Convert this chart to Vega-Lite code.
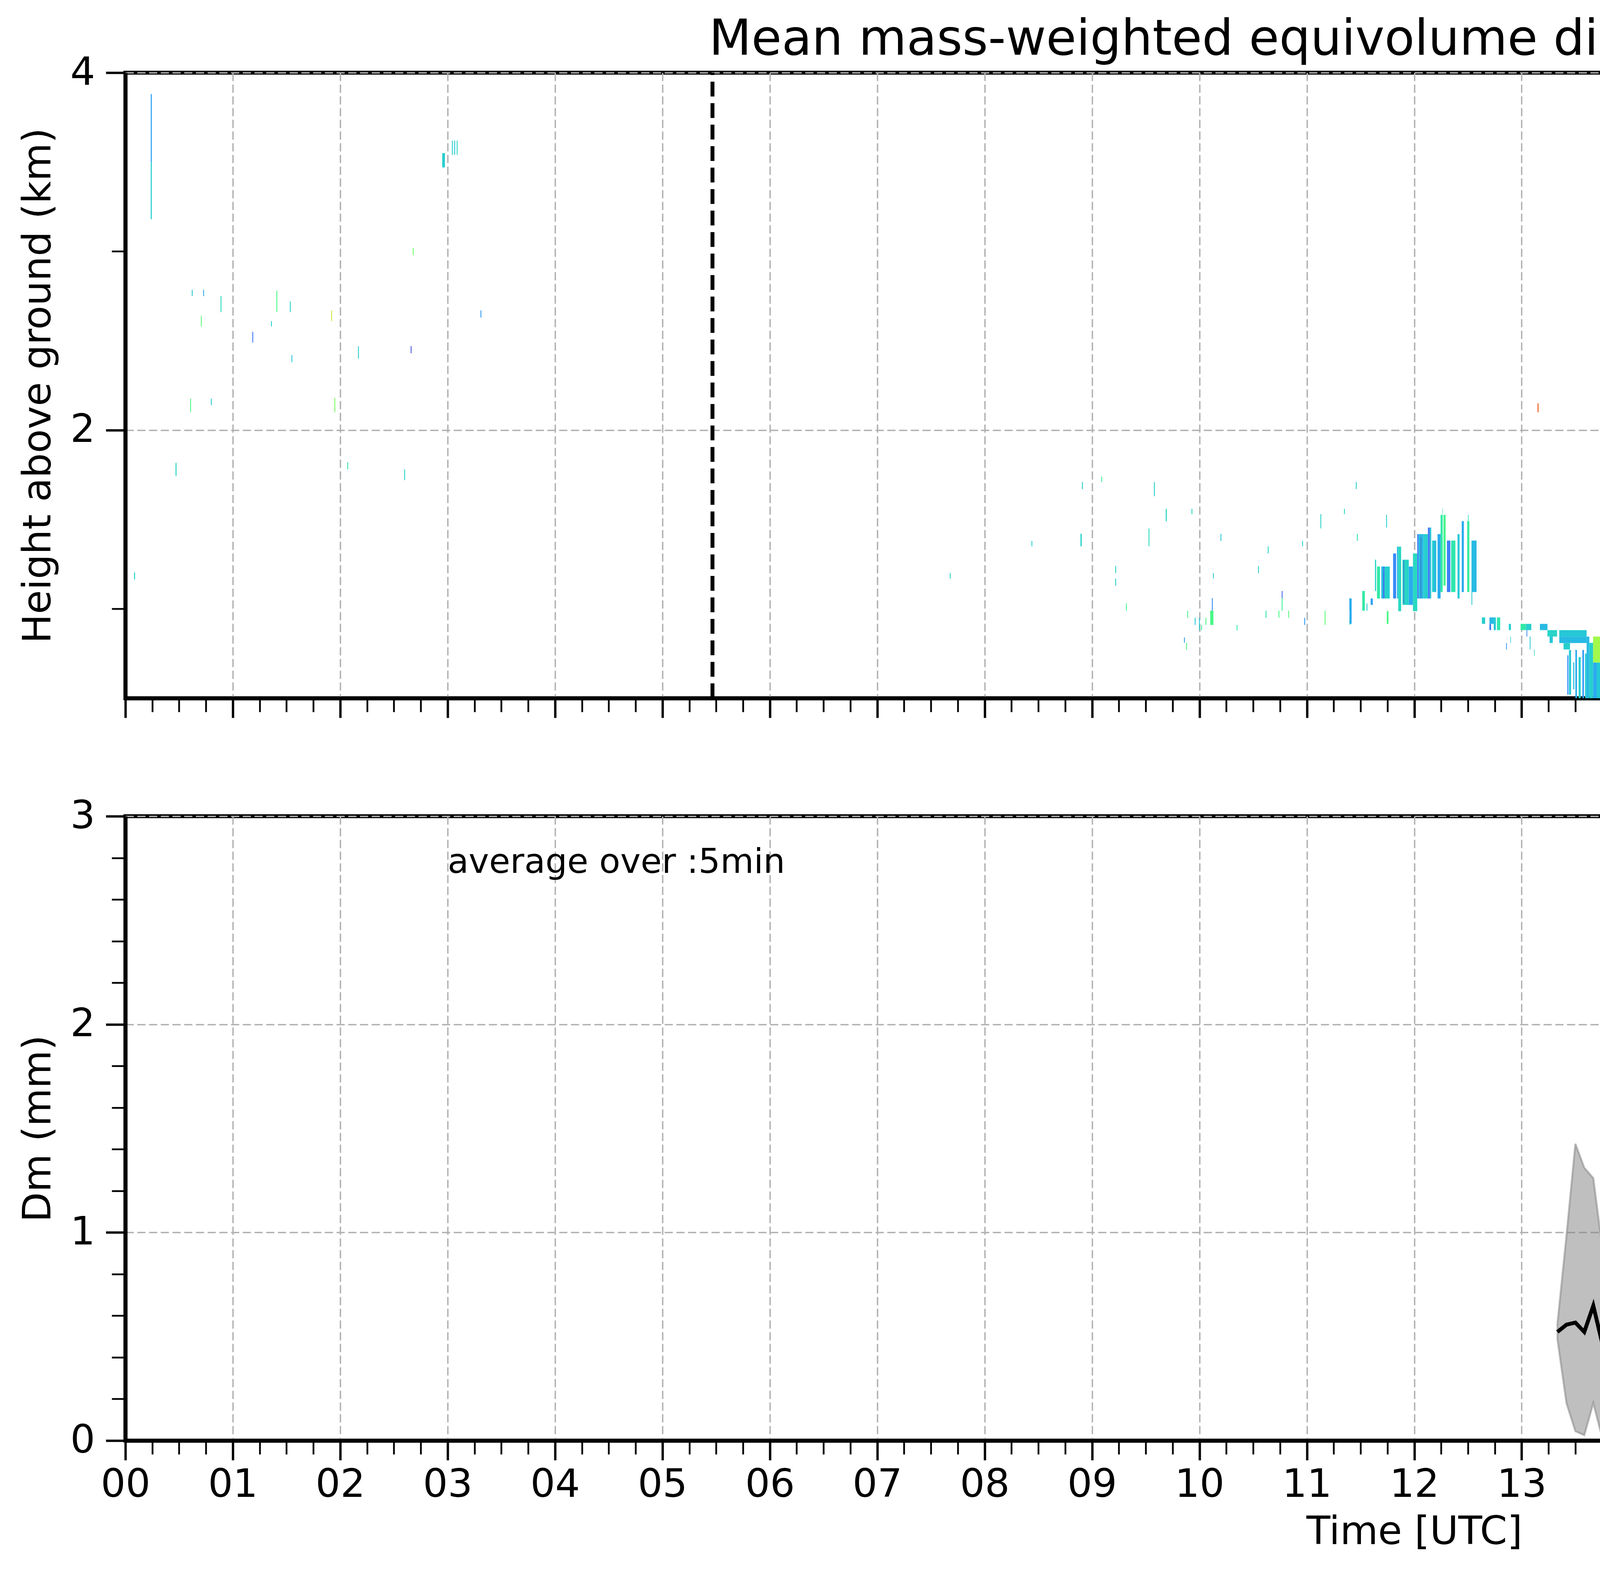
{
  "$schema": "https://vega.github.io/schema/vega-lite/v6.json",
  "background": "white",
  "padding": {"left": 43, "top": 34, "right": 10, "bottom": 10},
  "config": {
    "font": "DejaVu Sans",
    "view": {"stroke": "black", "strokeWidth": 10},
    "axis": {"labelFont": "DejaVu Sans", "titleFont": "DejaVu Sans", "labelColor": "black", "titleColor": "black", "tickColor": "black", "domainColor": "black", "zindex": 1},
    "legend": {"labelFont": "DejaVu Sans", "titleFont": "DejaVu Sans", "labelColor": "black", "titleColor": "black"},
    "title": {"font": "DejaVu Sans", "color": "black"}
  },
  "datasets": {
    "heat": [
      {"t":0.236,"t2":0.246,"h":3.5,"h2":3.88,"v":0.42},
      {"t":0.236,"t2":0.246,"h":3.18,"h2":3.5,"v":0.58},
      {"t":0.081,"t2":0.09,"h":1.164,"h2":1.204,"v":0.58},
      {"t":0.467,"t2":0.476,"h":1.743,"h2":1.817,"v":0.6},
      {"t":0.603,"t2":0.611,"h":2.1,"h2":2.176,"v":0.8},
      {"t":0.618,"t2":0.626,"h":2.75,"h2":2.785,"v":0.55},
      {"t":0.703,"t2":0.711,"h":2.58,"h2":2.64,"v":0.85},
      {"t":0.724,"t2":0.732,"h":2.75,"h2":2.785,"v":0.45},
      {"t":0.796,"t2":0.804,"h":2.14,"h2":2.176,"v":0.55},
      {"t":0.886,"t2":0.894,"h":2.66,"h2":2.75,"v":0.62},
      {"t":1.182,"t2":1.19,"h":2.49,"h2":2.55,"v":0.3},
      {"t":1.356,"t2":1.364,"h":2.58,"h2":2.61,"v":0.58},
      {"t":1.406,"t2":1.414,"h":2.66,"h2":2.78,"v":0.8},
      {"t":1.531,"t2":1.539,"h":2.66,"h2":2.72,"v":0.6},
      {"t":1.546,"t2":1.554,"h":2.38,"h2":2.42,"v":0.55},
      {"t":1.916,"t2":1.924,"h":2.61,"h2":2.67,"v":1.15},
      {"t":1.946,"t2":1.954,"h":2.1,"h2":2.18,"v":0.95},
      {"t":2.066,"t2":2.074,"h":1.78,"h2":1.82,"v":0.7},
      {"t":2.166,"t2":2.174,"h":2.4,"h2":2.47,"v":0.58},
      {"t":2.596,"t2":2.604,"h":1.72,"h2":1.78,"v":0.6},
      {"t":2.656,"t2":2.664,"h":2.43,"h2":2.47,"v":0.2},
      {"t":2.676,"t2":2.684,"h":2.98,"h2":3.02,"v":0.9},
      {"t":2.95,"t2":2.975,"h":3.47,"h2":3.55,"v":0.58},
      {"t":3.04,"t2":3.048,"h":3.54,"h2":3.62,"v":0.58},
      {"t":3.062,"t2":3.07,"h":3.54,"h2":3.62,"v":0.55},
      {"t":3.085,"t2":3.093,"h":3.54,"h2":3.62,"v":0.6},
      {"t":3.306,"t2":3.314,"h":2.63,"h2":2.67,"v":0.4},
      {"t":7.676,"t2":7.684,"h":1.17,"h2":1.2,"v":0.58},
      {"t":8.436,"t2":8.444,"h":1.35,"h2":1.38,"v":0.58},
      {"t":8.892,"t2":8.904,"h":1.35,"h2":1.42,"v":0.6},
      {"t":8.906,"t2":8.914,"h":1.67,"h2":1.71,"v":0.58},
      {"t":9.086,"t2":9.094,"h":1.71,"h2":1.74,"v":0.75},
      {"t":9.216,"t2":9.224,"h":1.2,"h2":1.24,"v":0.58},
      {"t":9.216,"t2":9.224,"h":1.13,"h2":1.17,"v":0.58},
      {"t":9.316,"t2":9.324,"h":0.99,"h2":1.03,"v":0.8},
      {"t":9.526,"t2":9.534,"h":1.35,"h2":1.45,"v":0.62},
      {"t":9.576,"t2":9.584,"h":1.63,"h2":1.71,"v":0.58},
      {"t":9.686,"t2":9.696,"h":1.49,"h2":1.56,"v":0.62},
      {"t":9.856,"t2":9.864,"h":0.81,"h2":0.84,"v":0.42},
      {"t":9.876,"t2":9.884,"h":0.77,"h2":0.81,"v":0.8},
      {"t":9.886,"t2":9.894,"h":0.95,"h2":0.99,"v":0.8},
      {"t":9.926,"t2":9.934,"h":1.53,"h2":1.56,"v":0.62},
      {"t":9.956,"t2":9.964,"h":0.91,"h2":0.95,"v":0.55},
      {"t":9.996,"t2":10.004,"h":0.88,"h2":0.95,"v":0.55},
      {"t":10.016,"t2":10.024,"h":0.88,"h2":0.91,"v":0.75},
      {"t":10.056,"t2":10.064,"h":0.91,"h2":0.95,"v":0.8},
      {"t":10.1,"t2":10.13,"h":0.91,"h2":0.99,"v":0.8},
      {"t":10.116,"t2":10.124,"h":0.99,"h2":1.06,"v":0.35},
      {"t":10.126,"t2":10.134,"h":1.17,"h2":1.2,"v":0.58},
      {"t":10.196,"t2":10.204,"h":1.38,"h2":1.42,"v":0.55},
      {"t":10.346,"t2":10.354,"h":0.88,"h2":0.91,"v":0.7},
      {"t":10.546,"t2":10.554,"h":1.2,"h2":1.24,"v":0.58},
      {"t":10.616,"t2":10.624,"h":0.95,"h2":0.99,"v":0.68},
      {"t":10.636,"t2":10.644,"h":1.31,"h2":1.35,"v":0.6},
      {"t":10.736,"t2":10.744,"h":0.95,"h2":0.99,"v":0.8},
      {"t":10.766,"t2":10.774,"h":1.06,"h2":1.1,"v":0.25},
      {"t":10.766,"t2":10.774,"h":0.99,"h2":1.06,"v":0.75},
      {"t":10.826,"t2":10.834,"h":0.95,"h2":0.99,"v":0.85},
      {"t":10.956,"t2":10.964,"h":1.35,"h2":1.38,"v":0.58},
      {"t":10.976,"t2":10.984,"h":0.91,"h2":0.95,"v":0.4},
      {"t":11.126,"t2":11.134,"h":1.45,"h2":1.53,"v":0.6},
      {"t":11.166,"t2":11.174,"h":0.91,"h2":0.99,"v":0.85},
      {"t":11.346,"t2":11.354,"h":1.53,"h2":1.56,"v":0.62},
      {"t":11.396,"t2":11.404,"h":0.99,"h2":1.06,"v":0.4},
      {"t":11.396,"t2":11.404,"h":0.91,"h2":0.95,"v":0.8},
      {"t":11.456,"t2":11.464,"h":1.67,"h2":1.71,"v":0.58},
      {"t":11.466,"t2":11.474,"h":1.38,"h2":1.42,"v":0.65},
      {"t":11.516,"t2":11.54,"h":0.99,"h2":1.1,"v":0.7},
      {"t":11.556,"t2":11.564,"h":0.99,"h2":1.03,"v":0.55},
      {"t":11.738,"t2":11.746,"h":1.455,"h2":1.526,"v":0.58},
      {"t":11.397,"t2":11.417,"h":0.916,"h2":1.058,"v":0.45},
      {"t":11.594,"t2":11.614,"h":1.022,"h2":1.058,"v":0.42},
      {"t":11.634,"t2":11.645,"h":1.1,"h2":1.275,"v":0.6},
      {"t":11.653,"t2":11.681,"h":1.058,"h2":1.237,"v":0.7},
      {"t":11.693,"t2":11.711,"h":1.058,"h2":1.237,"v":0.5},
      {"t":11.711,"t2":11.722,"h":1.058,"h2":1.237,"v":0.3},
      {"t":11.722,"t2":11.772,"h":1.058,"h2":1.237,"v":0.58},
      {"t":11.744,"t2":11.76,"h":0.916,"h2":0.987,"v":0.8},
      {"t":11.803,"t2":11.831,"h":1.058,"h2":1.31,"v":0.35},
      {"t":11.839,"t2":11.851,"h":1.058,"h2":1.348,"v":0.5},
      {"t":11.851,"t2":11.878,"h":0.987,"h2":1.348,"v":0.62},
      {"t":11.89,"t2":11.949,"h":1.022,"h2":1.275,"v":0.6},
      {"t":11.949,"t2":11.988,"h":1.022,"h2":1.237,"v":0.45},
      {"t":11.988,"t2":12.028,"h":0.987,"h2":1.31,"v":0.62},
      {"t":12.028,"t2":12.04,"h":1.058,"h2":1.418,"v":0.3},
      {"t":12.04,"t2":12.087,"h":1.058,"h2":1.418,"v":0.5},
      {"t":12.087,"t2":12.127,"h":1.058,"h2":1.418,"v":0.58},
      {"t":12.127,"t2":12.146,"h":1.058,"h2":1.455,"v":0.3},
      {"t":12.146,"t2":12.158,"h":1.058,"h2":1.455,"v":0.55},
      {"t":12.166,"t2":12.205,"h":1.094,"h2":1.382,"v":0.56},
      {"t":12.217,"t2":12.245,"h":1.058,"h2":1.418,"v":0.45},
      {"t":12.245,"t2":12.265,"h":1.094,"h2":1.526,"v":0.7},
      {"t":12.262,"t2":12.266,"h":1.526,"h2":1.561,"v":0.7},
      {"t":12.272,"t2":12.292,"h":1.13,"h2":1.526,"v":0.78},
      {"t":12.304,"t2":12.336,"h":1.094,"h2":1.382,"v":0.32},
      {"t":12.343,"t2":12.383,"h":1.094,"h2":1.382,"v":0.68},
      {"t":12.403,"t2":12.422,"h":1.058,"h2":1.418,"v":0.55},
      {"t":12.442,"t2":12.462,"h":1.094,"h2":1.491,"v":0.45},
      {"t":12.493,"t2":12.513,"h":1.094,"h2":1.491,"v":0.72},
      {"t":12.5,"t2":12.506,"h":1.491,"h2":1.526,"v":0.65},
      {"t":12.533,"t2":12.58,"h":1.094,"h2":1.382,"v":0.5},
      {"t":12.533,"t2":12.54,"h":1.022,"h2":1.094,"v":0.55},
      {"t":12.63,"t2":12.66,"h":0.916,"h2":0.952,"v":0.58},
      {"t":12.7,"t2":12.74,"h":0.916,"h2":0.952,"v":0.5},
      {"t":12.7,"t2":12.715,"h":0.881,"h2":0.916,"v":0.3},
      {"t":12.74,"t2":12.76,"h":0.881,"h2":0.952,"v":0.55},
      {"t":12.77,"t2":12.8,"h":0.881,"h2":0.952,"v":0.68},
      {"t":12.855,"t2":12.862,"h":0.773,"h2":0.809,"v":0.4},
      {"t":12.88,"t2":12.9,"h":0.881,"h2":0.916,"v":0.58},
      {"t":12.895,"t2":12.9,"h":0.809,"h2":0.845,"v":0.55},
      {"t":12.99,"t2":13.04,"h":0.881,"h2":0.916,"v":0.7},
      {"t":13.04,"t2":13.09,"h":0.881,"h2":0.916,"v":0.58},
      {"t":13.045,"t2":13.052,"h":0.845,"h2":0.881,"v":0.35},
      {"t":13.075,"t2":13.082,"h":0.773,"h2":0.845,"v":0.55},
      {"t":13.115,"t2":13.12,"h":0.736,"h2":0.773,"v":0.6},
      {"t":13.148,"t2":13.157,"h":2.1,"h2":2.15,"v":1.65},
      {"t":13.17,"t2":13.24,"h":0.881,"h2":0.916,"v":0.5},
      {"t":13.24,"t2":13.33,"h":0.845,"h2":0.881,"v":0.6},
      {"t":13.26,"t2":13.29,"h":0.809,"h2":0.845,"v":0.55},
      {"t":13.35,"t2":13.605,"h":0.845,"h2":0.881,"v":0.55},
      {"t":13.35,"t2":13.605,"h":0.809,"h2":0.845,"v":0.5},
      {"t":13.39,"t2":13.45,"h":0.773,"h2":0.809,"v":0.58},
      {"t":13.425,"t2":13.435,"h":0.52,"h2":0.74,"v":0.35},
      {"t":13.44,"t2":13.46,"h":0.52,"h2":0.77,"v":0.55},
      {"t":13.48,"t2":13.49,"h":0.55,"h2":0.7,"v":0.5},
      {"t":13.5,"t2":13.515,"h":0.5,"h2":0.77,"v":0.45},
      {"t":13.53,"t2":13.55,"h":0.5,"h2":0.73,"v":0.58},
      {"t":13.565,"t2":13.58,"h":0.5,"h2":0.77,"v":0.4},
      {"t":13.59,"t2":13.605,"h":0.5,"h2":0.75,"v":0.55},
      {"t":13.605,"t2":13.63,"h":0.5,"h2":0.845,"v":0.5},
      {"t":13.63,"t2":13.665,"h":0.5,"h2":0.81,"v":0.58},
      {"t":13.665,"t2":13.7,"h":0.5,"h2":0.7,"v":0.45},
      {"t":13.7,"t2":13.76,"h":0.5,"h2":0.7,"v":0.55},
      {"t":13.76,"t2":13.8,"h":0.5,"h2":0.7,"v":0.5},
      {"t":13.8,"t2":13.85,"h":0.5,"h2":0.7,"v":0.6},
      {"t":13.85,"t2":13.9,"h":0.5,"h2":0.7,"v":0.45},
      {"t":13.9,"t2":13.95,"h":0.5,"h2":0.7,"v":0.62},
      {"t":13.95,"t2":13.999,"h":0.5,"h2":0.72,"v":0.55},
      {"t":13.999,"t2":14.012,"h":0.5,"h2":0.7,"v":0.62},
      {"t":14.012,"t2":14.031,"h":0.5,"h2":0.78,"v":0.7},
      {"t":14.031,"t2":14.045,"h":0.5,"h2":0.845,"v":0.66},
      {"t":14.045,"t2":14.059,"h":0.5,"h2":0.86,"v":0.55},
      {"t":14.059,"t2":14.078,"h":0.5,"h2":0.9,"v":0.62},
      {"t":14.078,"t2":14.098,"h":0.5,"h2":0.9,"v":0.48},
      {"t":14.098,"t2":14.118,"h":0.5,"h2":0.95,"v":0.6},
      {"t":14.118,"t2":14.138,"h":0.5,"h2":0.95,"v":0.66},
      {"t":14.138,"t2":14.16,"h":0.5,"h2":1.02,"v":0.55},
      {"t":14.16,"t2":14.189,"h":0.5,"h2":1.02,"v":0.62},
      {"t":14.189,"t2":14.216,"h":0.5,"h2":1.075,"v":0.52},
      {"t":14.216,"t2":14.244,"h":0.5,"h2":1.115,"v":0.58},
      {"t":14.244,"t2":14.26,"h":0.5,"h2":1.17,"v":0.5},
      {"t":14.26,"t2":14.276,"h":0.5,"h2":1.17,"v":0.6},
      {"t":14.276,"t2":14.292,"h":0.5,"h2":1.22,"v":0.55},
      {"t":14.292,"t2":14.307,"h":0.5,"h2":1.22,"v":0.62},
      {"t":14.307,"t2":14.321,"h":0.5,"h2":1.255,"v":0.5},
      {"t":14.321,"t2":14.335,"h":0.5,"h2":1.255,"v":0.58},
      {"t":14.335,"t2":14.362,"h":0.5,"h2":1.295,"v":0.56},
      {"t":14.362,"t2":14.386,"h":0.5,"h2":1.33,"v":0.6},
      {"t":14.386,"t2":14.41,"h":0.5,"h2":1.38,"v":0.58},
      {"t":14.41,"t2":14.416,"h":0.5,"h2":1.31,"v":0.85},
      {"t":14.416,"t2":14.425,"h":0.5,"h2":1.31,"v":0.6},
      {"t":14.425,"t2":14.445,"h":0.5,"h2":1.2,"v":0.55},
      {"t":14.445,"t2":14.47,"h":0.5,"h2":1.097,"v":0.5},
      {"t":14.47,"t2":14.5,"h":0.5,"h2":1.097,"v":0.57},
      {"t":14.5,"t2":14.52,"h":0.5,"h2":1.238,"v":0.48},
      {"t":14.52,"t2":14.556,"h":0.5,"h2":1.238,"v":0.56},
      {"t":14.556,"t2":14.566,"h":0.5,"h2":1.348,"v":0.6},
      {"t":14.566,"t2":14.6,"h":0.5,"h2":1.167,"v":0.55},
      {"t":14.6,"t2":14.632,"h":0.5,"h2":1.167,"v":0.5},
      {"t":14.632,"t2":14.642,"h":0.5,"h2":1.238,"v":0.62},
      {"t":14.642,"t2":14.675,"h":0.5,"h2":1.026,"v":0.58},
      {"t":14.675,"t2":14.71,"h":0.5,"h2":0.987,"v":0.55},
      {"t":14.71,"t2":14.725,"h":0.5,"h2":1.167,"v":0.5},
      {"t":14.725,"t2":14.74,"h":0.5,"h2":1.167,"v":0.6},
      {"t":14.74,"t2":14.758,"h":0.5,"h2":1.203,"v":0.55},
      {"t":14.758,"t2":14.778,"h":0.5,"h2":1.275,"v":0.6},
      {"t":14.778,"t2":14.805,"h":0.5,"h2":1.312,"v":0.52},
      {"t":14.805,"t2":14.82,"h":0.5,"h2":1.382,"v":0.62},
      {"t":14.82,"t2":14.835,"h":0.5,"h2":1.382,"v":0.72},
      {"t":14.835,"t2":14.86,"h":0.5,"h2":1.418,"v":0.58},
      {"t":14.86,"t2":14.89,"h":0.5,"h2":1.418,"v":0.55},
      {"t":14.89,"t2":14.92,"h":0.5,"h2":1.418,"v":0.6},
      {"t":14.92,"t2":14.955,"h":0.5,"h2":1.418,"v":0.56},
      {"t":14.955,"t2":14.985,"h":0.5,"h2":1.382,"v":0.55},
      {"t":14.985,"t2":15.011,"h":0.5,"h2":1.382,"v":0.6},
      {"t":15.011,"t2":15.05,"h":0.5,"h2":1.348,"v":0.56},
      {"t":15.05,"t2":15.09,"h":0.5,"h2":1.348,"v":0.6},
      {"t":15.09,"t2":15.13,"h":0.5,"h2":1.312,"v":0.57},
      {"t":15.13,"t2":15.169,"h":0.5,"h2":1.312,"v":0.6},
      {"t":15.169,"t2":15.205,"h":0.5,"h2":1.275,"v":0.58},
      {"t":15.205,"t2":15.242,"h":0.5,"h2":1.275,"v":0.62},
      {"t":15.242,"t2":15.275,"h":0.5,"h2":1.238,"v":0.6},
      {"t":15.275,"t2":15.307,"h":0.5,"h2":1.238,"v":0.66},
      {"t":15.307,"t2":15.34,"h":0.5,"h2":1.203,"v":0.68},
      {"t":15.34,"t2":15.36,"h":0.5,"h2":0.916,"v":0.6},
      {"t":15.36,"t2":15.38,"h":0.5,"h2":0.916,"v":0.65},
      {"t":15.38,"t2":15.41,"h":0.5,"h2":0.809,"v":0.62},
      {"t":15.41,"t2":15.439,"h":0.5,"h2":0.809,"v":0.58},
      {"t":15.439,"t2":15.47,"h":0.5,"h2":0.987,"v":0.62},
      {"t":15.47,"t2":15.498,"h":0.5,"h2":0.987,"v":0.68},
      {"t":15.498,"t2":15.53,"h":0.5,"h2":0.952,"v":0.66},
      {"t":15.53,"t2":15.557,"h":0.5,"h2":0.952,"v":0.7},
      {"t":15.557,"t2":15.59,"h":0.5,"h2":0.916,"v":0.62},
      {"t":15.59,"t2":15.624,"h":0.5,"h2":0.916,"v":0.7},
      {"t":15.624,"t2":15.655,"h":0.5,"h2":0.881,"v":0.66},
      {"t":15.655,"t2":15.687,"h":0.5,"h2":0.881,"v":0.72},
      {"t":15.687,"t2":15.725,"h":0.5,"h2":0.845,"v":0.68},
      {"t":15.725,"t2":15.766,"h":0.5,"h2":0.845,"v":0.74},
      {"t":15.766,"t2":15.795,"h":0.5,"h2":0.809,"v":0.7},
      {"t":15.795,"t2":15.821,"h":0.5,"h2":0.809,"v":0.66},
      {"t":15.821,"t2":15.85,"h":0.5,"h2":0.773,"v":0.72},
      {"t":15.85,"t2":15.884,"h":0.5,"h2":0.773,"v":0.68},
      {"t":15.884,"t2":15.915,"h":0.5,"h2":0.736,"v":0.66},
      {"t":15.915,"t2":15.951,"h":0.5,"h2":0.736,"v":0.74},
      {"t":15.951,"t2":15.975,"h":0.5,"h2":0.7,"v":0.7},
      {"t":15.975,"t2":16.003,"h":0.5,"h2":0.7,"v":0.76},
      {"t":16.003,"t2":16.035,"h":0.5,"h2":0.664,"v":0.72},
      {"t":16.035,"t2":16.07,"h":0.5,"h2":0.664,"v":0.78},
      {"t":16.07,"t2":16.1,"h":0.5,"h2":0.628,"v":0.7},
      {"t":16.1,"t2":16.137,"h":0.5,"h2":0.628,"v":0.75},
      {"t":16.137,"t2":16.17,"h":0.5,"h2":0.591,"v":0.72},
      {"t":16.17,"t2":16.2,"h":0.5,"h2":0.591,"v":0.8},
      {"t":16.2,"t2":16.235,"h":0.5,"h2":0.555,"v":0.74},
      {"t":16.235,"t2":16.267,"h":0.5,"h2":0.555,"v":0.78},
      {"t":16.267,"t2":16.3,"h":0.5,"h2":0.519,"v":0.72},
      {"t":16.3,"t2":16.326,"h":0.5,"h2":0.519,"v":0.8},
      {"t":14.426,"t2":14.432,"h":3.38,"h2":3.41,"v":0.5},
      {"t":16.765,"t2":16.783,"h":3.55,"h2":3.61,"v":0.62},
      {"t":16.765,"t2":16.783,"h":3.51,"h2":3.55,"v":0.45},
      {"t":16.762,"t2":16.778,"h":3.47,"h2":3.51,"v":0.72},
      {"t":17.756,"t2":17.762,"h":3.76,"h2":3.79,"v":0.85},
      {"t":17.756,"t2":17.762,"h":3.72,"h2":3.76,"v":0.3},
      {"t":21.22,"t2":21.5,"h":0.5,"h2":0.52,"v":0.42},
      {"t":21.5,"t2":21.8,"h":0.5,"h2":0.52,"v":0.55},
      {"t":21.8,"t2":21.97,"h":0.5,"h2":0.515,"v":0.45}
    ],
    "stripes": [
      {"t":14.0,"t2":14.06,"h":0.5,"h2":0.57,"v":1.02},
      {"t":14.06,"t2":14.2,"h":0.5,"h2":0.56,"v":0.85},
      {"t":14.2,"t2":14.3,"h":0.5,"h2":0.55,"v":0.95},
      {"t":14.3,"t2":14.45,"h":0.5,"h2":0.55,"v":0.8},
      {"t":14.45,"t2":14.55,"h":0.5,"h2":0.54,"v":0.9},
      {"t":14.55,"t2":14.75,"h":0.5,"h2":0.53,"v":0.75},
      {"t":14.031,"t2":14.042,"h":0.5,"h2":0.81,"v":0.95},
      {"t":13.665,"t2":13.763,"h":0.7,"h2":0.845,"v":1.05},
      {"t":13.74,"t2":13.76,"h":0.5,"h2":0.6,"v":1.0},
      {"t":14.05,"t2":14.055,"h":0.55,"h2":0.88,"v":0.8},
      {"t":15.0,"t2":15.005,"h":0.55,"h2":1.3,"v":0.72},
      {"t":15.52,"t2":15.526,"h":0.5,"h2":0.9,"v":0.85},
      {"t":14.085,"t2":14.09,"h":0.5,"h2":0.85,"v":0.35},
      {"t":14.175,"t2":14.18,"h":0.5,"h2":0.98,"v":0.38},
      {"t":14.235,"t2":14.24,"h":0.6,"h2":1.05,"v":0.32},
      {"t":14.345,"t2":14.35,"h":0.5,"h2":1.2,"v":0.4},
      {"t":14.46,"t2":14.465,"h":0.5,"h2":1.05,"v":0.25},
      {"t":14.53,"t2":14.535,"h":0.55,"h2":1.15,"v":0.38},
      {"t":14.615,"t2":14.62,"h":0.5,"h2":1.1,"v":0.4},
      {"t":14.7,"t2":14.705,"h":0.5,"h2":0.95,"v":0.3},
      {"t":14.8,"t2":14.805,"h":0.6,"h2":1.25,"v":0.38},
      {"t":14.9,"t2":14.905,"h":0.5,"h2":1.3,"v":0.42},
      {"t":14.97,"t2":14.975,"h":0.55,"h2":1.2,"v":0.4},
      {"t":15.06,"t2":15.065,"h":0.5,"h2":1.1,"v":0.35},
      {"t":15.15,"t2":15.155,"h":0.5,"h2":1.25,"v":0.42},
      {"t":15.22,"t2":15.225,"h":0.55,"h2":1.0,"v":0.3},
      {"t":15.31,"t2":15.315,"h":0.5,"h2":1.15,"v":0.4},
      {"t":15.455,"t2":15.462,"h":0.5,"h2":0.95,"v":0.35},
      {"t":15.6,"t2":15.605,"h":0.5,"h2":0.85,"v":0.3},
      {"t":15.76,"t2":15.765,"h":0.5,"h2":0.8,"v":0.35},
      {"t":15.9,"t2":15.905,"h":0.52,"h2":0.7,"v":0.4},
      {"t":13.73,"t2":13.735,"h":0.5,"h2":0.8,"v":0.15},
      {"t":13.8,"t2":13.805,"h":0.5,"h2":0.7,"v":0.2},
      {"t":13.87,"t2":13.875,"h":0.5,"h2":0.68,"v":0.25},
      {"t":13.95,"t2":13.955,"h":0.5,"h2":0.7,"v":0.35},
      {"t":11.9,"t2":11.905,"h":1.03,"h2":1.27,"v":0.2},
      {"t":12.06,"t2":12.064,"h":1.06,"h2":1.4,"v":0.15},
      {"t":12.19,"t2":12.195,"h":1.1,"h2":1.38,"v":0.4},
      {"t":11.715,"t2":11.719,"h":1.06,"h2":1.2,"v":0.2}
    ],
    "radar": [
      {"t":13.333,"med":0.522,"hi":0.562,"lo":0.487},
      {"t":13.417,"med":0.557,"hi":0.984,"lo":0.18},
      {"t":13.5,"med":0.567,"hi":1.426,"lo":0.045},
      {"t":13.583,"med":0.522,"hi":1.311,"lo":0.026},
      {"t":13.667,"med":0.648,"hi":1.261,"lo":0.18},
      {"t":13.75,"med":0.468,"hi":0.929,"lo":0.013},
      {"t":13.833,"med":0.678,"hi":0.893,"lo":0.196},
      {"t":13.917,"med":0.546,"hi":0.55,"lo":0.54},
      {"t":14.0,"med":0.799,"hi":1.079,"lo":0.385},
      {"t":14.083,"med":0.573,"hi":0.751,"lo":0.377},
      {"t":14.167,"med":0.614,"hi":0.767,"lo":0.045},
      {"t":14.25,"med":0.616,"hi":0.753,"lo":0.199},
      {"t":14.333,"med":0.535,"hi":0.845,"lo":0.126},
      {"t":14.417,"med":0.573,"hi":0.826,"lo":0.25},
      {"t":14.5,"med":0.684,"hi":0.886,"lo":0.304},
      {"t":14.583,"med":0.728,"hi":0.929,"lo":0.368},
      {"t":14.667,"med":0.605,"hi":0.918,"lo":0.061},
      {"t":14.75,"med":0.535,"hi":0.842,"lo":0.04},
      {"t":14.833,"med":0.6,"hi":0.834,"lo":0.139},
      {"t":14.917,"med":0.609,"hi":0.913,"lo":0.013},
      {"t":15.0,"med":0.598,"hi":0.816,"lo":0.212},
      {"t":15.083,"med":0.552,"hi":0.665,"lo":0.368},
      {"t":15.167,"med":0.591,"hi":0.745,"lo":0.451},
      {"t":15.25,"med":0.575,"hi":0.691,"lo":0.217},
      {"t":15.333,"med":0.535,"hi":0.745,"lo":0.361},
      {"t":15.417,"med":0.643,"hi":1.624,"lo":0.25},
      {"t":15.5,"med":0.576,"hi":0.891,"lo":0.139},
      {"t":15.583,"med":0.619,"hi":0.789,"lo":0.253},
      {"t":15.667,"med":0.591,"hi":0.699,"lo":0.476},
      {"t":15.75,"med":0.665,"hi":0.799,"lo":0.449},
      {"t":15.833,"med":0.692,"hi":0.826,"lo":0.494},
      {"t":15.917,"med":0.656,"hi":0.772,"lo":0.314}
    ],
    "pars": [
      {"t":14.417,"med":1.094,"hi":1.3,"lo":0.893},
      {"t":14.5,"med":1.252,"hi":1.356,"lo":0.888},
      {"t":14.583,"med":0.883,"hi":1.071,"lo":0.791},
      {"t":14.667,"med":0.916,"hi":0.956,"lo":0.821},
      {"t":14.75,"med":0.816,"hi":1.069,"lo":0.758},
      {"t":14.833,"med":0.832,"hi":0.963,"lo":0.702},
      {"t":14.917,"med":0.77,"hi":0.772,"lo":0.767}
    ],
    "legend": [
      {"series":"Min-Max Range radar Dm"},
      {"series":"radar(xmacs-wmacs)_Dm_median"},
      {"series":"Min-Max Range parsivel Dm"},
      {"series":"parsivel_Dm_median"}
    ]
  },
  "bounds": "flush",
  "spacing": 302,
  "resolve": {
    "scale": {"color": "independent", "stroke": "independent", "shape": "independent"},
    "legend": {"color": "independent", "stroke": "independent", "shape": "independent"}
  },
  "vconcat": [
    {
      "width": 6599,
      "height": 1601,
      "title": {"text": "Mean mass-weighted equivolume diameter on 20260314", "fontSize": 126, "fontWeight": "normal", "anchor": "middle", "baseline": "alphabetic", "offset": -130},
      "resolve": {"axis": {"x": "independent", "y": "independent"}},
      "layer": [
        {
          "data": {"name": "heat"},
          "mark": {"type": "rect", "clip": true, "strokeWidth": 0},
          "encoding": {
            "x": {"field": "t", "type": "quantitative", "scale": {"domain": [0, 24], "nice": false, "zero": false},
              "axis": {"orient": "bottom", "values": [0,1,2,3,4,5,6,7,8,9,10,11,12,13,14,15,16,17,18,19,20,21,22,23], "labels": false, "tickSize": 50, "tickWidth": 6, "grid": true, "gridColor": "#b0b0b0", "gridWidth": 3.5, "gridDash": [21, 9], "domain": true, "domainWidth": 10, "title": null}},
            "x2": {"field": "t2"},
            "y": {"field": "h", "type": "quantitative", "scale": {"domain": [0.5, 4], "nice": false, "zero": false},
              "axis": {"orient": "left", "values": [2, 4], "tickSize": 50, "tickWidth": 6, "labelFontSize": 100, "labelPadding": 28, "grid": true, "gridColor": "#b0b0b0", "gridWidth": 3.5, "gridDash": [21, 9], "domain": true, "domainWidth": 10, "title": "Height above ground (km)", "titleFontSize": 100, "titleFontWeight": "normal", "titlePadding": 30}},
            "y2": {"field": "h2"},
            "color": {"field": "v", "type": "quantitative", "scale": {"scheme": "turbo", "domain": [0, 2]},
              "legend": {"orient": "none", "legendX": 6675, "legendY": 0, "direction": "vertical", "padding": 0, "gradientLength": 1601, "gradientThickness": 112, "gradientStrokeColor": "black", "gradientStrokeWidth": 6, "values": [0, 0.4, 0.8, 1.2, 1.6, 2.0], "format": ".1f", "labelFontSize": 80, "labelOffset": 51, "labelOverlap": false, "title": null}}
          }
        },
        {
          "data": {"name": "stripes"},
          "mark": {"type": "rect", "clip": true, "strokeWidth": 0},
          "encoding": {
            "x": {"field": "t", "type": "quantitative", "scale": {"domain": [0, 24], "nice": false, "zero": false},
              "axis": {"orient": "bottom", "values": [0.25,0.5,0.75,1.25,1.5,1.75,2.25,2.5,2.75,3.25,3.5,3.75,4.25,4.5,4.75,5.25,5.5,5.75,6.25,6.5,6.75,7.25,7.5,7.75,8.25,8.5,8.75,9.25,9.5,9.75,10.25,10.5,10.75,11.25,11.5,11.75,12.25,12.5,12.75,13.25,13.5,13.75,14.25,14.5,14.75,15.25,15.5,15.75,16.25,16.5,16.75,17.25,17.5,17.75,18.25,18.5,18.75,19.25,19.5,19.75,20.25,20.5,20.75,21.25,21.5,21.75,22.25,22.5,22.75,23.25,23.5,23.75], "labels": false, "tickSize": 35, "tickWidth": 4.5, "grid": false, "domain": false, "title": null}},
            "x2": {"field": "t2"},
            "y": {"field": "h", "type": "quantitative", "scale": {"domain": [0.5, 4], "nice": false, "zero": false},
              "axis": {"orient": "left", "values": [1, 3], "labels": false, "tickSize": 35, "tickWidth": 4.5, "grid": false, "domain": false, "title": null}},
            "y2": {"field": "h2"},
            "color": {"field": "v", "type": "quantitative", "scale": {"scheme": "turbo", "domain": [0, 2]}}
          }
        },
        {
          "data": {"values": [{"t": 5.466}, {"t": 17.286}]},
          "mark": {"type": "rule", "color": "black", "strokeWidth": 10, "strokeDash": [38, 17]},
          "encoding": {
            "x": {"field": "t", "type": "quantitative", "scale": {"domain": [0, 24], "nice": false, "zero": false}, "axis": null},
            "y": {"datum": 0.5, "type": "quantitative", "axis": {"orient": "right", "ticks": false, "labels": false, "domain": false, "grid": false, "minExtent": 0, "offset": 465, "title": "Dm (mm)", "titleAngle": 270, "titleFontSize": 80, "titleFontWeight": "normal", "titleBaseline": "alphabetic", "titlePadding": 0}},
            "y2": {"datum": 4}
          }
        }
      ]
    },
    {
      "width": 6599,
      "height": 1598,
      "resolve": {"axis": {"x": "independent", "y": "independent"}},
      "layer": [
        {
          "data": {"name": "radar"},
          "mark": {"type": "area", "fill": "#808080", "fillOpacity": 0.5, "stroke": "#808080", "strokeOpacity": 0.5, "strokeWidth": 5, "clip": true},
          "encoding": {
            "x": {"field": "t", "type": "quantitative", "scale": {"domain": [0, 24], "nice": false, "zero": false},
              "axis": {"orient": "bottom", "values": [0,1,2,3,4,5,6,7,8,9,10,11,12,13,14,15,16,17,18,19,20,21,22,23], "labelExpr": "datum.value < 10 ? '0' + datum.value : '' + datum.value", "labelFontSize": 100, "labelPadding": 14, "labelFlush": false, "labelOverlap": false, "tickSize": 50, "tickWidth": 6, "grid": true, "gridColor": "#b0b0b0", "gridWidth": 3.5, "gridDash": [21, 9], "domain": true, "domainWidth": 10, "title": "Time [UTC]", "titleFontSize": 100, "titleFontWeight": "normal", "titlePadding": 22}},
            "y": {"field": "lo", "type": "quantitative", "scale": {"domain": [0, 3], "nice": false, "zero": false},
              "axis": {"orient": "left", "values": [0, 1, 2, 3], "tickSize": 50, "tickWidth": 6, "labelFontSize": 100, "labelPadding": 28, "grid": true, "gridColor": "#b0b0b0", "gridWidth": 3.5, "gridDash": [21, 9], "domain": true, "domainWidth": 10, "title": "Dm (mm)", "titleFontSize": 100, "titleFontWeight": "normal", "titlePadding": 30}},
            "y2": {"field": "hi"}
          }
        },
        {
          "data": {"name": "radar"},
          "mark": {"type": "line", "color": "black", "strokeWidth": 10, "clip": true},
          "encoding": {
            "x": {"field": "t", "type": "quantitative", "scale": {"domain": [0, 24], "nice": false, "zero": false},
              "axis": {"orient": "bottom", "values": [0.25,0.5,0.75,1.25,1.5,1.75,2.25,2.5,2.75,3.25,3.5,3.75,4.25,4.5,4.75,5.25,5.5,5.75,6.25,6.5,6.75,7.25,7.5,7.75,8.25,8.5,8.75,9.25,9.5,9.75,10.25,10.5,10.75,11.25,11.5,11.75,12.25,12.5,12.75,13.25,13.5,13.75,14.25,14.5,14.75,15.25,15.5,15.75,16.25,16.5,16.75,17.25,17.5,17.75,18.25,18.5,18.75,19.25,19.5,19.75,20.25,20.5,20.75,21.25,21.5,21.75,22.25,22.5,22.75,23.25,23.5,23.75], "labels": false, "tickSize": 35, "tickWidth": 4.5, "grid": false, "domain": false, "title": null}},
            "y": {"field": "med", "type": "quantitative", "scale": {"domain": [0, 3], "nice": false, "zero": false},
              "axis": {"orient": "left", "values": [0.2,0.4,0.6,0.8,1.2,1.4,1.6,1.8,2.2,2.4,2.6,2.8], "labels": false, "tickSize": 35, "tickWidth": 4.5, "grid": false, "domain": false, "title": null}}
          }
        },
        {
          "data": {"name": "pars"},
          "mark": {"type": "area", "fill": "#bf00bf", "fillOpacity": 0.3, "stroke": "#bf00bf", "strokeOpacity": 0.3, "strokeWidth": 5, "clip": true},
          "encoding": {
            "x": {"field": "t", "type": "quantitative", "scale": {"domain": [0, 24], "nice": false, "zero": false}, "axis": null},
            "y": {"field": "lo", "type": "quantitative", "scale": {"domain": [0, 3], "nice": false, "zero": false}, "axis": null},
            "y2": {"field": "hi"}
          }
        },
        {
          "data": {"name": "pars"},
          "mark": {"type": "line", "color": "#bf00bf", "strokeWidth": 10, "clip": true},
          "encoding": {
            "x": {"field": "t", "type": "quantitative", "scale": {"domain": [0, 24], "nice": false, "zero": false}, "axis": null},
            "y": {"field": "med", "type": "quantitative", "scale": {"domain": [0, 3], "nice": false, "zero": false}, "axis": null}
          }
        },
        {
          "data": {"values": [{"label": "average over :5min"}]},
          "mark": {"type": "text", "align": "left", "baseline": "alphabetic", "fontSize": 88, "color": "black", "font": "DejaVu Sans"},
          "encoding": {
            "x": {"datum": 3, "type": "quantitative", "axis": null},
            "y": {"datum": 2.728, "type": "quantitative", "axis": null},
            "text": {"field": "label"}
          }
        },
        {
          "data": {"name": "legend"},
          "mark": {"type": "point", "filled": true, "opacity": 0},
          "encoding": {
            "color": {"field": "series", "type": "nominal",
              "scale": {"domain": ["Min-Max Range radar Dm", "radar(xmacs-wmacs)_Dm_median", "Min-Max Range parsivel Dm", "parsivel_Dm_median"], "range": ["#c0c0c0", "#000000", "#ecb3ec", "#bf00bf"]},
              "legend": {"title": null, "orient": "top-right", "offset": 34, "padding": 14, "labelFontSize": 69, "labelOffset": 76, "labelLimit": 3000, "symbolSize": 10816, "symbolOffset": 28, "symbolStrokeWidth": 4, "symbolOpacity": 1, "rowPadding": 15, "strokeColor": "#cccccc", "fillColor": "rgba(255,255,255,0.8)", "cornerRadius": 20}},
            "stroke": {"field": "series", "type": "nominal",
              "scale": {"domain": ["Min-Max Range radar Dm", "radar(xmacs-wmacs)_Dm_median", "Min-Max Range parsivel Dm", "parsivel_Dm_median"], "range": ["#a3a3a3", "#000000", "#df80df", "#bf00bf"]},
              "legend": {"title": null, "orient": "top-right", "offset": 34, "padding": 14, "labelFontSize": 69, "labelOffset": 76, "labelLimit": 3000, "symbolSize": 10816, "symbolOffset": 28, "symbolStrokeWidth": 4, "symbolOpacity": 1, "rowPadding": 15, "strokeColor": "#cccccc", "fillColor": "rgba(255,255,255,0.8)", "cornerRadius": 20}},
            "shape": {"field": "series", "type": "nominal",
              "scale": {"domain": ["Min-Max Range radar Dm", "radar(xmacs-wmacs)_Dm_median", "Min-Max Range parsivel Dm", "parsivel_Dm_median"], "range": ["M-1.38,-0.5H1.38V0.5H-1.38Z", "M-1.42,-0.06H1.42V0.06H-1.42Z", "M-1.38,-0.5H1.38V0.5H-1.38Z", "M-1.42,-0.06H1.42V0.06H-1.42Z"]},
              "legend": {"title": null, "orient": "top-right", "offset": 34, "padding": 14, "labelFontSize": 69, "labelOffset": 76, "labelLimit": 3000, "symbolSize": 10816, "symbolOffset": 28, "symbolStrokeWidth": 4, "symbolOpacity": 1, "rowPadding": 15, "strokeColor": "#cccccc", "fillColor": "rgba(255,255,255,0.8)", "cornerRadius": 20}}
          }
        }
      ]
    }
  ]
}
